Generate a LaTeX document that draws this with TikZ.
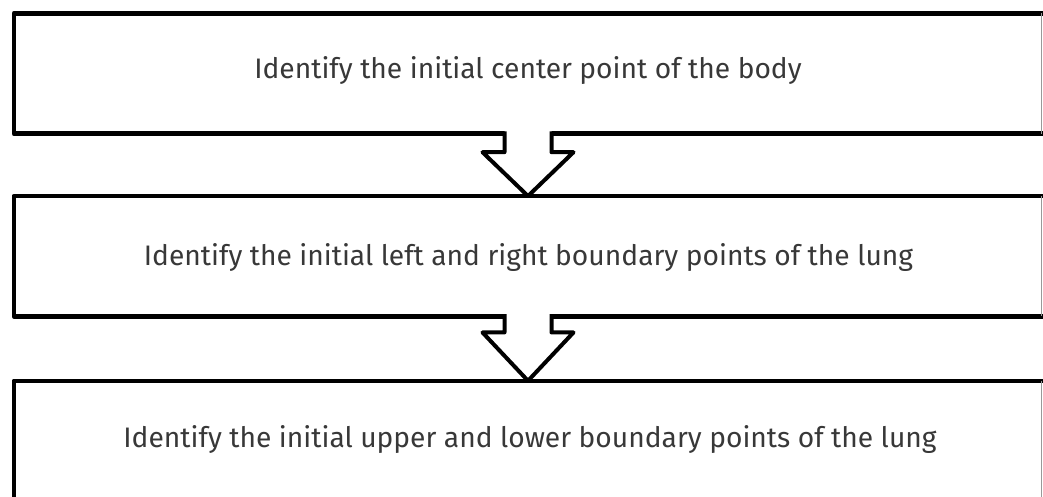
\documentclass[tikz,border=0pt]{standalone}
\usepackage{fontspec}
\newfontfamily\stepfont{Fira Sans}
\usetikzlibrary{calc}
\begin{document}
\begin{tikzpicture}[x=1pt,y=-1pt,
  stepbox/.style={draw=none, minimum width=1028pt, minimum height=120pt, inner sep=0pt},
  steptext/.style={font=\stepfont\fontsize{28.2}{32}\selectfont, text=black!78, anchor=base, inner sep=0pt},
  border/.style={line width=4.5pt, line cap=butt, line join=round},
  edgeline/.style={line width=1pt, draw=black!40},
  arrowline/.style={line width=4pt, line join=round, line cap=butt}]
\useasboundingbox (0,0) rectangle (1043,497);
\fill[white] (0,0) rectangle (1043,497);
\clip (0,0) rectangle (1043,497);
% boxes
\node[stepbox] (b1) at (528,73.5) {};
\node[stepbox] (b2) at (528,256.25) {};
\node[stepbox] (b3) at (528,441) {};
\foreach \b in {b1,b2,b3}{
  \draw[border] ([xshift=1pt]\b.north east) -- (\b.north west) -- (\b.south west) -- ([xshift=1pt]\b.south east);
  \draw[edgeline] ([xshift=-1pt]\b.north east) -- ([xshift=-1pt]\b.south east);
}
% texts
\node[steptext] (t1) at (528,79) {Identify the initial center point of the body};
\node[steptext] (t2) at (528.5,265) {Identify the initial left and right boundary points of the lung};
\node[steptext] (t3) at (530,447) {Identify the initial upper and lower boundary points of the lung};
% block arrows
\foreach \a/\c/\s in {b1/b2/18.5, b2/b3/16}{
  \fill[white] ($(\a.south)+(-23.5,-3)$) -- ($(\a.south)+(-23.5,\s)$) -- ($(\a.south)+(-45.5,\s)$) -- (\c.north) -- ($(\a.south)+(45.5,\s)$) -- ($(\a.south)+(23.5,\s)$) -- ($(\a.south)+(23.5,-3)$) -- cycle;
  \draw[arrowline] ($(\a.south)+(-23.5,-2.25)$) -- ($(\a.south)+(-23.5,\s)$) -- ($(\a.south)+(-45.5,\s)$) -- (\c.north) -- ($(\a.south)+(45.5,\s)$) -- ($(\a.south)+(23.5,\s)$) -- ($(\a.south)+(23.5,-2.25)$);
}
\end{tikzpicture}
\end{document}
